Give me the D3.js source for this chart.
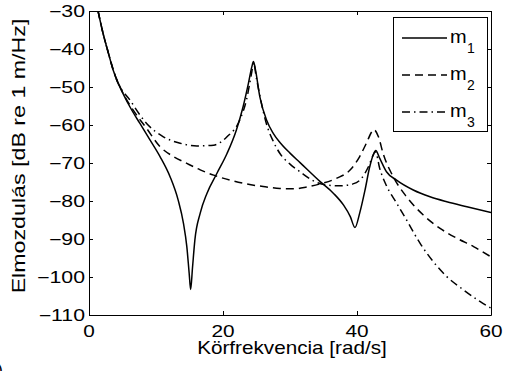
<!DOCTYPE html>
<html>
<head>
<meta charset="utf-8">
<script src="https://cdn.jsdelivr.net/npm/d3@7"></script>
<style>
  html, body { margin: 0; padding: 0; background: #fff; }
  svg { display: block; font-family: "Liberation Sans", Arial, sans-serif; }
</style>
</head>
<body>
<div id="chart"></div>
<script>
// axis ticks
const xTicks = [0, 20, 40, 60];
const yTicks = [-110, -100, -90, -80, -70, -60, -50, -40, -30];
const legendSubs = ["1", "2", "3"];

// m1 (solid) - [rad/s, dB]
const m1 = [[1.35,-30],[2.1,-35.9],[2.9,-41.1],[3.6,-45.5],[4.6,-49.9],[6.1,-55.2],[7.6,-59.6],[9.1,-63.9],
  [10.6,-68.3],[12.1,-73.6],[13.3,-79.7],[14.1,-85.9],[14.6,-92.0],[14.95,-99],[15.17,-103.3],[15.45,-97.5],
  [15.8,-90.3],[16.6,-83.2],[17.6,-78.0],[19.1,-72.7],[20.6,-67.5],[22.0,-61.3],[23.0,-55.2],[23.8,-49.0],
  [24.3,-44.7],[24.55,-43.3],[24.85,-45.5],[25.5,-52.6],[26.5,-58.7],[27.5,-62.2],[28.5,-64.6],[30.0,-67.4],
  [31.5,-69.9],[34.5,-74.9],[36.5,-78.0],[38.0,-81.1],[39.0,-84.1],[39.7,-87.0],[40.4,-83.2],[41.2,-77.1],
  [41.9,-71.0],[42.8,-66.7],[43.4,-68.8],[44.4,-72.3],[45.9,-74.5],[48.4,-77.1],[50.9,-78.9],[53.4,-80.2],
  [56.4,-81.5],[60,-83.0]];

// m2 (dashed)
const m2 = [[1.35,-30],[2.1,-35.9],[2.9,-41.1],[3.6,-45.5],[4.6,-49.9],[5.1,-51.7],[6.6,-56.1],[8.6,-60.9],
  [10.6,-65.7],[12.6,-68.3],[14.6,-70.1],[16.6,-71.8],[18.6,-73.2],[21.0,-74.5],[23.5,-75.5],[26.0,-76.2],
  [28.5,-76.7],[30.5,-76.8],[32.5,-76.3],[34.5,-75.5],[37.0,-74.0],[39.0,-71.8],[40.4,-68.3],[41.4,-64.8],
  [42.2,-61.8],[42.5,-61.2],[43.2,-63.1],[43.9,-67.5],[45.4,-73.6],[47.4,-78.9],[49.9,-83.7],[52.4,-87.2],
  [54.9,-89.8],[57.4,-92.0],[60,-94.7]];

// m3 (dash-dot)
const m3 = [[1.35,-30],[2.1,-35.9],[2.9,-41.1],[3.6,-45.3],[4.1,-48.0],[6.1,-53.4],[8.6,-59.6],[11.1,-63.1],
  [13.6,-64.8],[16.1,-65.5],[18.6,-65.3],[20.6,-63.1],[22.5,-58.7],[23.5,-53.4],[24.3,-46.0],[24.55,-43.6],
  [25.0,-47.8],[25.5,-52.3],[26.5,-59.8],[27.5,-64.3],[28.5,-67.5],[30.0,-70.3],[31.5,-72.3],[33.5,-74.7],
  [35.5,-75.8],[37.5,-76.0],[39.4,-75.5],[40.7,-74.0],[41.7,-71.0],[42.4,-68.0],[42.75,-67.0],[43.4,-71.5],
  [44.4,-76.0],[45.9,-80.5],[47.4,-85.0],[49.4,-91.1],[51.4,-96.0],[53.4,-99.9],[55.9,-103.4],[58.4,-106.5],
  [60,-108.2]];

const series = [
  { data: m1, dash: null },
  { data: m2, dash: "8,5" },
  { data: m3, dash: "8,4,1.5,4" }
];

const W = 506, H = 371;
const margin = { left: 89, top: 11 };
const innerW = 402, innerH = 304;

const svg = d3.select("#chart").append("svg")
  .attr("width", W)
  .attr("height", H);

const x = d3.scaleLinear().domain([0, 60]).range([0, innerW]);
const y = d3.scaleLinear().domain([-110, -30]).range([innerH, 0]);

const g = svg.append("g").attr("transform", `translate(${margin.left},${margin.top})`);

g.append("clipPath").attr("id", "plotClip")
  .append("rect").attr("width", innerW).attr("height", innerH);

const line = d3.line()
  .x(d => x(d[0]))
  .y(d => y(d[1]))
  .curve(d3.curveMonotoneX);

g.append("g").attr("clip-path", "url(#plotClip)")
  .selectAll("path")
  .data(series)
  .join("path")
  .attr("fill", "none")
  .attr("stroke", "#000")
  .attr("stroke-width", 1.5)
  .attr("stroke-dasharray", d => d.dash)
  .attr("d", d => line(d.data));

// box + inward ticks on all four sides
const axes = [
  d3.axisBottom(x).tickValues(xTicks),
  d3.axisTop(x).tickValues(xTicks),
  d3.axisLeft(y).tickValues(yTicks),
  d3.axisRight(y).tickValues(yTicks)
];
const shifts = [[0, innerH], [0, 0], [0, 0], [innerW, 0]];
axes.forEach((ax, i) => {
  g.append("g")
    .attr("transform", `translate(${shifts[i][0]},${shifts[i][1]})`)
    .call(ax.tickSize(-4).tickSizeOuter(0).tickFormat(""))
    .call(s => s.selectAll("path,line").attr("stroke", "#000"));
});

const fmt = v => v < 0 ? "\u2212" + Math.abs(v) : String(v);

g.selectAll(".xt").data(xTicks).join("text")
  .attr("transform", d => `translate(${x(d)},${innerH + 22}) scale(1.3,1)`)
  .attr("text-anchor", "middle")
  .attr("font-size", 16)
  .text(fmt);

g.selectAll(".yt").data(yTicks).join("text")
  .attr("transform", d => `translate(-4,${y(d) + 6}) scale(1.33,1)`)
  .attr("text-anchor", "end")
  .attr("font-size", 16)
  .text(fmt);

// axis titles
svg.append("text")
  .attr("transform", `translate(292,354) scale(1.15,1)`)
  .attr("text-anchor", "middle")
  .attr("font-size", 18)
  .text("Körfrekvencia [rad/s]");

svg.append("text")
  .attr("transform", `translate(25,156) rotate(-90) scale(1.29,1)`)
  .attr("text-anchor", "middle")
  .attr("font-size", 18)
  .text("Elmozdulás [dB re 1 m/Hz]");

// legend
const leg = svg.append("g");
leg.append("rect")
  .attr("x", 393.5).attr("y", 17.5)
  .attr("width", 94).attr("height", 114)
  .attr("fill", "#fff").attr("stroke", "#000");
const legY = [38, 75, 112];
series.forEach((s, i) => {
  leg.append("line")
    .attr("x1", 402).attr("x2", 447)
    .attr("y1", legY[i]).attr("y2", legY[i])
    .attr("stroke", "#000").attr("stroke-width", 1.5)
    .attr("stroke-dasharray", s.dash);
  leg.append("text")
    .attr("transform", `translate(450,${legY[i] + 5}) scale(1.05,1)`)
    .attr("font-size", 19)
    .text("m");
  leg.append("text")
    .attr("x", 467).attr("y", legY[i] + 15)
    .attr("font-size", 14)
    .text(legendSubs[i]);
});

// cropped caption fragment at bottom-left
svg.append("text")
  .attr("x", -3).attr("y", 376)
  .attr("font-size", 18)
  .text(")");
</script>
</body>
</html>
